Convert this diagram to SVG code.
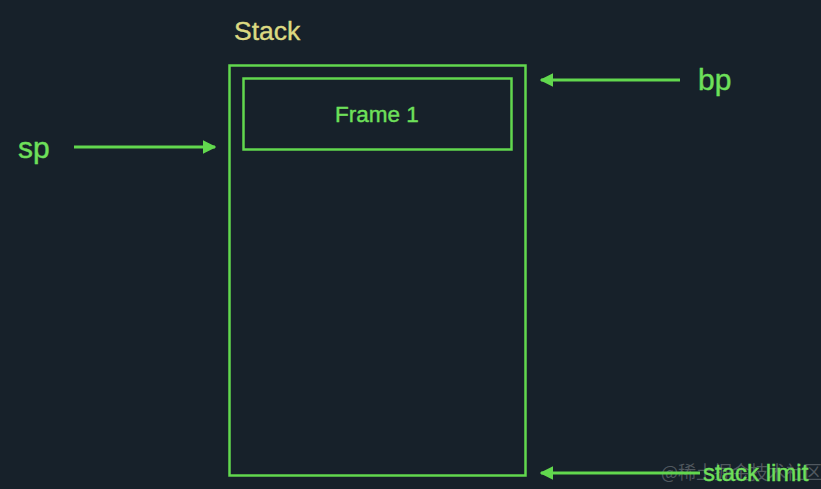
<svg xmlns="http://www.w3.org/2000/svg" width="821" height="489" viewBox="0 0 821 489">
<style>
.box{fill:none;stroke:#62d84e;stroke-width:2.5}
.ln{stroke:#62d84e;stroke-width:3;fill:none}
.lbl{font-family:"Liberation Sans",Arial,sans-serif;fill:#6ee05a;stroke:#6ee05a;stroke-width:0.4}
</style>
<defs>
<marker id="ah" viewBox="0 0 10 10" refX="9" refY="5" markerWidth="4.5" markerHeight="4.5" orient="auto" markerUnits="strokeWidth">
<path d="M0,0 L10,5 L0,10 z" fill="#62d84e"/>
</marker>
</defs>
<rect width="821" height="489" fill="#17212a"/>
<g id="stack">
<text x="234" y="40" font-family="'Liberation Sans',Arial,sans-serif" font-size="26.5" fill="#dcd982" stroke="#dcd982" stroke-width="0.4">Stack</text>
<rect class="box" x="229.5" y="65.5" width="296" height="410"/>
</g>
<g id="frame1">
<rect class="box" x="243.5" y="78.5" width="268" height="71"/>
<text class="lbl" x="377" y="122" font-size="22.5" text-anchor="middle">Frame 1</text>
</g>
<g id="sp"><text class="lbl" x="18" y="158" font-size="30">sp</text></g>
<g id="bp"><text class="lbl" x="698" y="90" font-size="30">bp</text></g>
<g id="stacklimit">
<text x="661" y="479" font-family="'Noto Sans CJK SC',sans-serif" font-size="18" fill="#8a8f94" fill-opacity="0.5">@稀土掘金技术社区</text>
<text class="lbl" x="703" y="481" font-size="24">stack limit</text>
</g>
<g id="connectors">
<line class="ln" x1="74" y1="147" x2="215" y2="147" marker-end="url(#ah)"/>
<line class="ln" x1="680" y1="80" x2="541" y2="80" marker-end="url(#ah)"/>
<line class="ln" x1="700" y1="473" x2="541" y2="473" marker-end="url(#ah)"/>
</g>
</svg>
